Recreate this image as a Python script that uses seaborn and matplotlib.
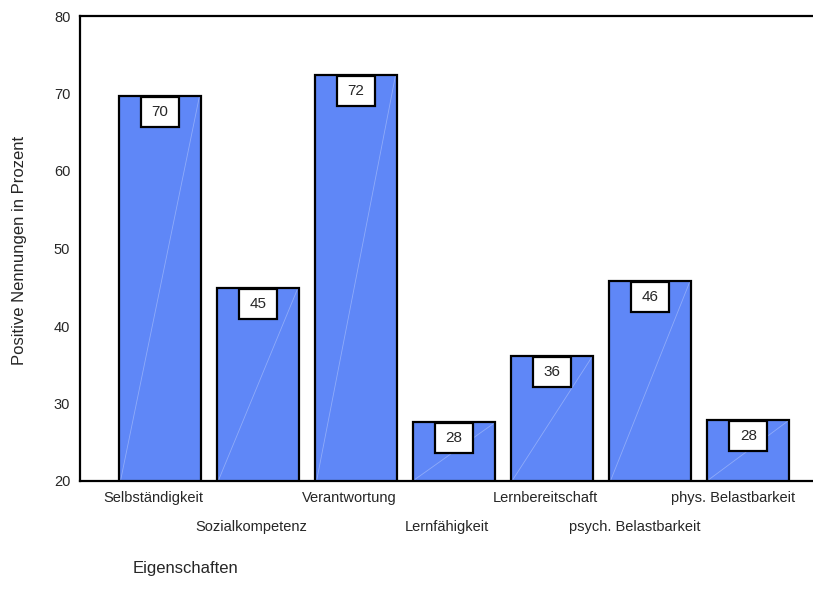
import matplotlib
matplotlib.use("Agg")
import matplotlib.pyplot as plt
from matplotlib.patches import Rectangle
import seaborn as sns
import pandas as pd

categories = ["Selbständigkeit", "Sozialkompetenz", "Verantwortung", "Lernfähigkeit",
              "Lernbereitschaft", "psych. Belastbarkeit", "phys. Belastbarkeit"]
values = [69.7, 44.9, 72.4, 27.6, 36.1, 45.8, 27.9]
yticks = [20, 30, 40, 50, 60, 70, 80]

df = pd.DataFrame({"Eigenschaft": categories, "Prozent": values})

sns.set_style("white")
plt.rcParams["font.family"] = ["Liberation Sans", "DejaVu Sans"]

fig = plt.figure(figsize=(8.13, 5.97), dpi=100)
W, H = 813, 597
ax = fig.add_axes([80 / W, (H - 481) / H, (W - 80) / W, (481 - 16) / H])

bar_color = "#5F87F7"
sns.barplot(data=df, x="Eigenschaft", y="Prozent", color=bar_color, width=0.84,
            edgecolor="black", linewidth=1.6, saturation=1, ax=ax)

ax.set_ylim(20, 80)
ax.set_xlim(-0.816, 6.66)
ax.set_yticks(yticks)
ax.set_yticklabels([str(t) for t in yticks])

# faint diagonal highlight in each bar, bottom-left to top-right
for p in list(ax.patches):
    x0 = p.get_x()
    w = p.get_width()
    h = p.get_height()
    ax.plot([x0 + 0.02, x0 + w - 0.02], [20.2, h - 0.2], color="white",
            lw=0.6, alpha=0.3, zorder=3)

# value boxes just below each bar top
box_w, box_h = 0.39, 3.85
for i, v in enumerate(values):
    ax.add_patch(Rectangle((i - box_w / 2, v - 0.15 - box_h), box_w, box_h,
                           facecolor="white", edgecolor="black", linewidth=1.6,
                           zorder=4))
    ax.text(i, v - 0.15 - box_h / 2, f"{v:.0f}", ha="center", va="center",
            fontsize=11, zorder=5)

# staggered category labels, nudged slightly left of the tick
ax.set_xticks(range(len(categories)))
ax.set_xticklabels([])
for i, c in enumerate(categories):
    yoff = -17 if i % 2 == 0 else -46
    xoff = -15 if len(c) >= 19 else -7
    ax.annotate(c, xy=(i, 20), xycoords="data", xytext=(xoff, yoff),
                textcoords="offset pixels", ha="center", va="center",
                fontsize=10.5)

ax.tick_params(axis="both", which="both", length=3, width=3, color="black",
               direction="out", pad=4)
ax.tick_params(axis="y", labelsize=10.5)

for s in ["left", "bottom", "top"]:
    ax.spines[s].set_visible(True)
    ax.spines[s].set_color("black")
    ax.spines[s].set_linewidth(1.6)
ax.spines["right"].set_visible(False)

ax.set_xlabel("")
ax.set_ylabel("Positive Nennungen in Prozent", fontsize=12)
ax.yaxis.set_label_coords(-53 / 733, (481 - 250) / 465)
fig.text(133 / W, 1 - 568 / H, "Eigenschaften", fontsize=12, ha="left", va="center")

fig.savefig("out.png", dpi=100, facecolor="white")
